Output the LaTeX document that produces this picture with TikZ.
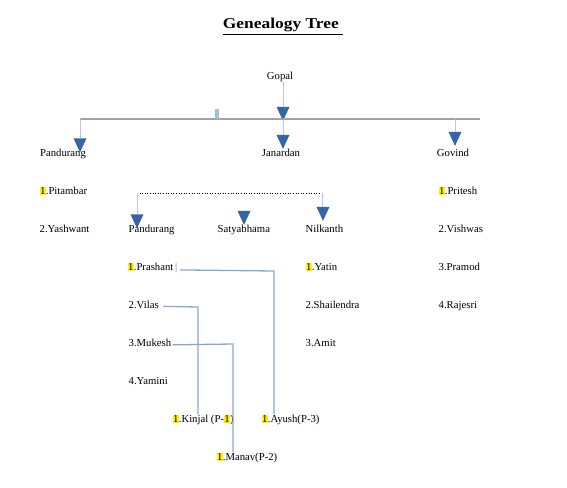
\documentclass[tikz,border=0pt]{standalone}
\usepackage{fontspec}
\setmainfont{Liberation Serif}
\newfontfamily\titlefont[FakeStretch=1.16]{Liberation Serif}
\usetikzlibrary{shapes.geometric}
\definecolor{tricol}{HTML}{3565A6}
\definecolor{vcol}{HTML}{B7C8DE}
\definecolor{desccol}{HTML}{8AA6CE}
\definecolor{maincol}{HTML}{A3A3A3}
\definecolor{tickcol}{HTML}{9DBFD8}
\newcommand\hlone{{\setlength{\fboxsep}{0.4pt}\colorbox{yellow}{1}}}
\begin{document}
\begin{tikzpicture}[x=1pt,y=-1pt,
  every node/.style={font=\fontsize{10.7}{12}\selectfont},
  lbl/.style={anchor=base west,inner sep=0.5pt},
  clbl/.style={anchor=base,inner sep=0.5pt},
  tri/.style={isosceles triangle,isosceles triangle stretches,shape border rotate=270,
    fill=tricol,draw=none,inner sep=0pt,minimum width=13,minimum height=14},
  vline/.style={draw=vcol,line width=0.9pt},
  mainline/.style={draw=maincol,line width=1.6pt},
  desc/.style={draw=desccol,line width=1.3pt},
  dotline/.style={draw=black,line width=0.6pt,dotted}]
\useasboundingbox (0,0) rectangle (567,487);
% title
\node[clbl] (title) at (283,29) {\titlefont\fontsize{15}{18}\selectfont\bfseries\underline{Genealogy Tree\ }};
% top
\node[clbl] (gopal) at (280,79.5) {Gopal};
\node[tri] (t0) at (283,111) {};
\draw[vline] (gopal.south -| t0.north) -- (t0.north);
\coordinate (hl) at (80,119);
\coordinate (hr) at (480,119);
\draw[mainline] (hl) -- (hr);
\node[fill=tickcol,inner sep=0pt,minimum width=4,minimum height=10] (tick1) at (217,114) {};
\node[tri] (t1) at (80,142.5) {};
\node[tri] (t2) at (283,139) {};
\node[tri] (t3) at (455,136) {};
\draw[vline] (hl) -- (t1.north);
\draw[vline] (t0.apex) -- (t2.north);
\draw[vline] (t3.north |- hl) -- (t3.north);
\node[clbl] (pand1) at (63,156) {Pandurang};
\node[clbl] (jan) at (281,156) {Janardan};
\node[clbl] (gov) at (453,156) {Govind};
% left column
\node[lbl] (pit) at (39,194.5) {\hlone.Pitambar};
\node[lbl] (yash) at (39,232.5) {2.Yashwant};
% Janardan children
\coordinate (d1) at (137,193);
\coordinate (d2) at (322,193);
\draw[dotline] (d1) -- (d2);
\node[tri] (t4) at (137,218.5) {};
\node[tri] (t5) at (244,215) {};
\node[tri] (t6) at (323,211) {};
\draw[vline] (d1) -- (t4.north);
\draw[vline] (d2) -- (t6.north -| d2);
\node[lbl] (pand2) at (128,232.5) {Pandurang};
\node[lbl] (satya) at (217,232.5) {Satyabhama};
\node[lbl] (nil) at (305,232.5) {Nilkanth};
% Govind column
\node[lbl] (pri) at (438,194.5) {\hlone.Pritesh};
\node[lbl] (vish) at (438,232.5) {2.Vishwas};
\node[lbl] (pram) at (438,270.5) {3.Pramod};
\node[lbl] (raj) at (438,308.5) {4.Rajesri};
% Nilkanth column
\node[lbl] (yat) at (305,270.5) {\hlone.Yatin};
\node[lbl] (shai) at (305,308.5) {2.Shailendra};
\node[lbl] (amit) at (305,346.5) {3.Amit};
% Pandurang column
\node[lbl] (pras) at (127,270.5) {\hlone.Prashant\,\textcolor{gray}{|}};
\node[lbl] (vilas) at (128,308.5) {2.Vilas};
\node[lbl] (muk) at (128,346.5) {3.Mukesh};
\node[lbl] (yam) at (128,384.5) {4.Yamini};
% grandchildren
\node[lbl] (kin) at (172,422.5) {\hlone.Kinjal (P-\hlone)};
\node[lbl] (ayu) at (261,422.5) {\hlone.Ayush(P-3)};
\node[lbl] (man) at (216,460.5) {\hlone.Manav(P-2)};
\coordinate (pA) at (274,271);
\coordinate (vA) at (198,307);
\coordinate (mA) at (233,344);
\draw[desc] ([xshift=2pt,yshift=-2pt]pras.east) -- (pA) -- (pA |- ayu.north);
\draw[desc] ([xshift=4pt,yshift=-1.5pt]vilas.east) -- (vA) -- (vA |- kin.north);
\draw[desc] ([xshift=1pt,yshift=-2pt]muk.east) -- (mA) -- (mA |- man.north);
\end{tikzpicture}
\end{document}
